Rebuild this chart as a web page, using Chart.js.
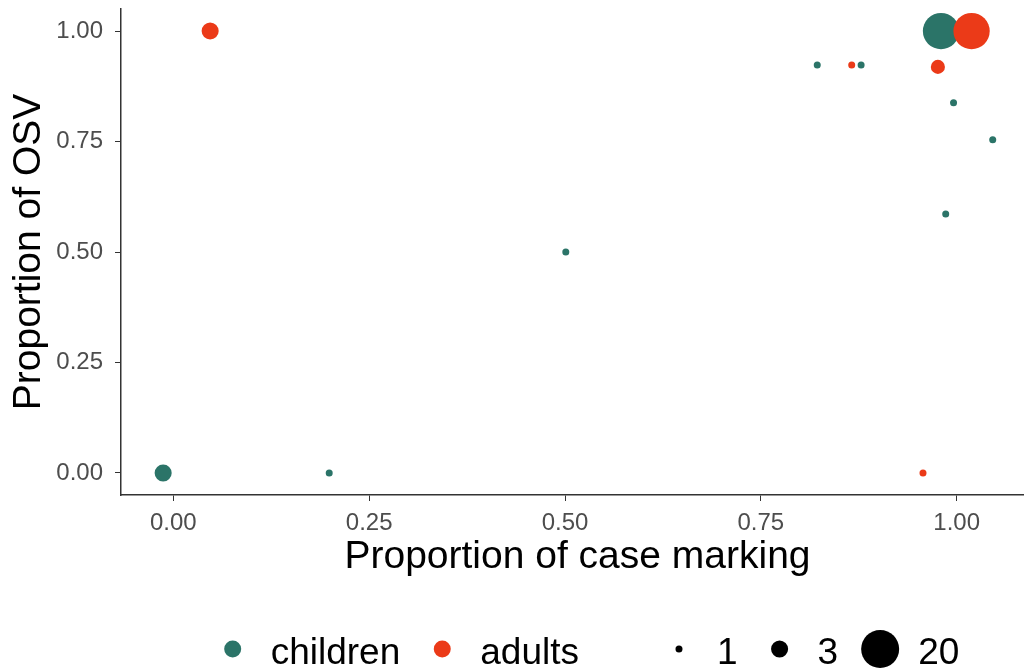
<!DOCTYPE html>
<html>
<head>
<meta charset="utf-8">
<script src="https://cdn.jsdelivr.net/npm/chart.js@4.4.0/dist/chart.umd.min.js"></script>
<style>
  html, body { margin: 0; padding: 0; background: #fff; overflow: hidden; }
</style>
</head>
<body>
<canvas id="osvChart" width="1035" height="672"></canvas>
<script>
// tick values
const xTicks = [0, 0.25, 0.5, 0.75, 1]
const yTicks = [0, 0.25, 0.5, 0.75, 1]

// children: proportion of case marking, proportion of OSV, count
const childrenX = [-0.013, 0.199, 0.501, 0.822, 0.878, 0.98, 0.996, 1.046, 0.986]
const childrenY = [0, 0, 0.5, 0.923, 0.923, 1, 0.838, 0.754, 0.586]
const childrenN = [3, 1, 1, 1, 1, 18, 1, 1, 1]

// adults
const adultsX = [0.047, 0.866, 0.976, 1.019, 0.957]
const adultsY = [1, 0.923, 0.919, 1, 0]
const adultsN = [3, 1, 2, 18, 1]

const groupLabels = ["children", "adults"]
const sizeBreaks = [1, 3, 20]

const teal = "#2b7468"
const red = "#eb3a18"
const family = "'Liberation Sans', Arial, sans-serif"

// ggplot-like area scale: n in [1, 20] -> radius
function radiusFor(n) {
  return 3.5 + Math.sqrt((n - 1) / 19) * 15.5
}

function toPoints(xs, ys) {
  return xs.map((x, i) => ({ x: x, y: ys[i] }))
}

// stop chart.js from padding the plot for edge labels
function noAutoPad(s) {
  s.paddingTop = 0
  s.paddingBottom = 0
  s.paddingLeft = 0
  s.paddingRight = 0
}

// legend drawn below the plot: colour keys then size keys
const bottomLegend = {
  id: "bottomLegend",
  afterDraw(chart) {
    const ctx = chart.ctx
    ctx.save()
    ctx.font = "37px " + family
    const items = [
      { color: teal, r: 8.5, text: groupLabels[0] },
      { color: red, r: 8.5, text: groupLabels[1], extra: 58 },
    ]
    sizeBreaks.forEach(n => items.push({ color: "#000", r: radiusFor(n), text: String(n) }))

    let total = 0
    items.forEach((it, i) => {
      it.w = 58 + ctx.measureText(it.text).width
      total += it.w + (it.extra || 0)
      if (i < items.length - 1) total += 22
    })

    let x = 586 - total / 2
    items.forEach(it => {
      ctx.fillStyle = it.color
      ctx.beginPath()
      ctx.arc(x + 20, 649, it.r, 0, Math.PI * 2)
      ctx.fill()
      ctx.fillStyle = "#000"
      ctx.textAlign = "left"
      ctx.textBaseline = "middle"
      ctx.fillText(it.text, x + 58, 654)
      x += it.w + 22 + (it.extra || 0)
    })
    ctx.restore()
  },
}

const config = {
  type: "scatter",
  data: {
    datasets: [
      {
        label: groupLabels[0],
        data: toPoints(childrenX, childrenY),
        backgroundColor: teal,
        borderWidth: 0,
        pointRadius: c => radiusFor(childrenN[c.dataIndex]),
        order: 1,
      },
      {
        label: groupLabels[1],
        data: toPoints(adultsX, adultsY),
        backgroundColor: red,
        borderWidth: 0,
        pointRadius: c => radiusFor(adultsN[c.dataIndex]),
        order: 0,
      },
    ],
  },
  options: {
    responsive: false,
    animation: false,
    events: [],
    layout: { autoPadding: false, padding: { top: 9, right: 1, bottom: 82, left: 0 } },
    plugins: {
      legend: { display: false },
      tooltip: { enabled: false },
    },
    scales: {
      x: {
        type: "linear",
        min: -0.0668,
        max: 1.0987,
        afterBuildTicks: s => { s.ticks = xTicks.map(v => ({ value: v })) },
        afterFit: s => { s.height = 95; noAutoPad(s) },
        grid: { display: true, drawOnChartArea: false, drawTicks: true, tickLength: 6, color: "#333" },
        border: { display: true, color: "#333", width: 1.5 },
        ticks: {
          color: "#4d4d4d",
          font: { size: 24, family: family },
          padding: 8,
          maxRotation: 0,
          autoSkip: false,
          callback: v => v.toFixed(2),
        },
        title: {
          display: true,
          text: "Proportion of case marking",
          color: "#000",
          font: { size: 39, family: family },
          padding: { top: 0, bottom: 9 },
        },
      },
      y: {
        type: "linear",
        min: -0.05,
        max: 1.05,
        afterBuildTicks: s => { s.ticks = yTicks.map(v => ({ value: v })) },
        afterFit: s => { s.width = 121; noAutoPad(s) },
        grid: { display: true, drawOnChartArea: false, drawTicks: true, tickLength: 6, color: "#333" },
        border: { display: true, color: "#333", width: 1.5 },
        ticks: {
          color: "#4d4d4d",
          font: { size: 24, family: family },
          padding: 12,
          autoSkip: false,
          callback: v => v.toFixed(2),
        },
        title: {
          display: true,
          text: "Proportion of OSV",
          color: "#000",
          font: { size: 39, family: family },
          padding: { top: 6, bottom: 0 },
        },
      },
    },
  },
  plugins: [bottomLegend],
}

new Chart(document.getElementById("osvChart"), config)
</script>
</body>
</html>
